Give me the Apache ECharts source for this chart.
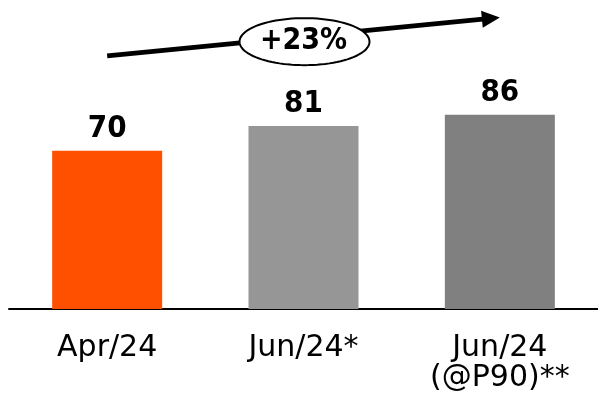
<!DOCTYPE html>
<html><head><meta charset="utf-8">
<script src="https://cdn.jsdelivr.net/npm/echarts@6/dist/echarts.min.js"></script>
<style>html,body{margin:0;padding:0;background:#fff}#c{width:598px;height:397px}</style>
</head><body><div id="c"></div>
<script>
const categories = ['Apr/24', 'Jun/24*', 'Jun/24\n(@P90)**'];
const values = [70, 81, 86];
const barColors = ['#FF5000', '#969696', '#808080'];
const growthLabel = '+23%';

const FONT = 'DejaVu Sans, Verdana, sans-serif';
const BOLDFONT = '"DejaVu Sans Condensed", "DejaVu Sans", sans-serif';
const chart = echarts.init(document.getElementById('c'));
chart.setOption({
  animation: false,
  grid: { left: 9, top: 83, width: 596, bottom: 88 },
  xAxis: {
    type: 'category', data: categories,
    axisLine: { lineStyle: { color: '#000', width: 2 } },
    axisTick: { show: false },
    axisLabel: { color: '#000', fontSize: 30, fontFamily: FONT, margin: 24, lineHeight: 30, interval: 0 }
  },
  yAxis: { type: 'value', min: 0, max: 100, show: false, splitLine: { show: false } },
  series: [{
    type: 'bar', barWidth: 110,
    data: values.map((v, i) => ({ value: v, itemStyle: { color: barColors[i] } })),
    label: { show: true, position: 'top', distance: 6, color: '#000', fontWeight: 'bold', fontSize: 31, fontFamily: BOLDFONT }
  }]
});

// growth arrow annotation, anchored to first and last category
const p0 = chart.convertToPixel({ gridIndex: 0 }, [0, 112]);
const p1 = chart.convertToPixel({ gridIndex: 0 }, [categories.length - 1, 129]);
const dx = p1[0] - p0[0], dy = p1[1] - p0[1];
const len = Math.sqrt(dx * dx + dy * dy);
const ux = dx / len, uy = dy / len;
const headLen = 18, headHalf = 8.5;
const base = [p1[0] - ux * headLen, p1[1] - uy * headLen];
const nx = -uy, ny = ux;
const cx = (p0[0] + p1[0]) / 2 + 1, cy = (p0[1] + p1[1]) / 2 + 5;
const rx = 65, ry = 23.5;
const ell = [];
for (let k = 0; k < 96; k++) {
  const a = k / 96 * Math.PI * 2;
  ell.push([cx + rx * Math.cos(a), cy + ry * Math.sin(a)]);
}
chart.setOption({
  graphic: [
    { type: 'line', shape: { x1: p0[0], y1: p0[1], x2: base[0] + ux, y2: base[1] + uy }, style: { stroke: '#000', lineWidth: 5 }, z: 10 },
    { type: 'polygon', shape: { points: [p1, [base[0] + nx * headHalf, base[1] + ny * headHalf], [base[0] - nx * headHalf, base[1] - ny * headHalf]] }, style: { fill: '#000' }, z: 10 },
    { type: 'polygon', shape: { points: ell }, style: { fill: '#fff', stroke: '#000', lineWidth: 2 }, z: 11 },
    { type: 'text', x: cx - 1, y: cy, style: { text: growthLabel, fill: '#000', font: 'bold 30px ' + BOLDFONT, align: 'center', verticalAlign: 'middle' }, z: 12 }
  ]
});
</script>
</body></html>
